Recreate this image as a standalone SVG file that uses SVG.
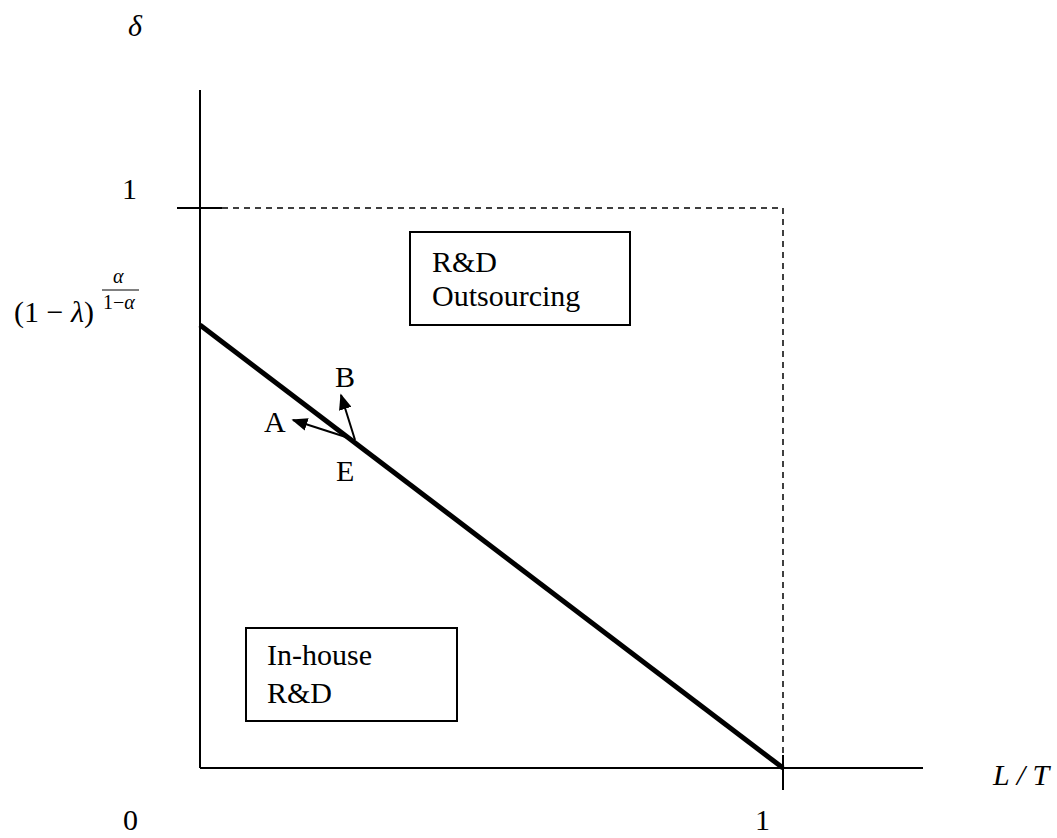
<svg xmlns="http://www.w3.org/2000/svg" width="1057" height="838" viewBox="0 0 1057 838">
<style>
text{font-family:"Liberation Serif","Times New Roman",serif;fill:#000;font-size:30px}
.it{font-style:italic}
.ax{stroke:#000;stroke-width:2;fill:none}
.dash{stroke:#000;stroke-width:1.5;stroke-dasharray:6,5;fill:none}
.box{stroke:#000;stroke-width:2;fill:#fff}
.sm{font-size:20px}
</style>
<defs>
<marker id="ah" viewBox="0 0 10 10" refX="9" refY="5" markerWidth="16" markerHeight="13" orient="auto" markerUnits="userSpaceOnUse" preserveAspectRatio="none">
<path d="M0,0 L10,5 L0,10 z" fill="#000"/>
</marker>
</defs>
<rect width="1057" height="838" fill="#fff"/>
<g id="axes">
<line class="ax" x1="200" y1="90" x2="200" y2="768"/>
<line class="ax" x1="200" y1="768" x2="923" y2="768"/>
<line class="ax" x1="177" y1="208" x2="222" y2="208"/>
<line class="ax" x1="783" y1="755" x2="783" y2="790"/>
<line class="dash" x1="222" y1="208" x2="783" y2="208"/>
<line class="dash" x1="783" y1="208" x2="783" y2="768"/>
</g>
<g id="connectors">
<line x1="200" y1="325" x2="783" y2="768" stroke="#000" stroke-width="5"/>
<line x1="355" y1="440" x2="341" y2="395" stroke="#000" stroke-width="2" marker-end="url(#ah)"/>
<line x1="352" y1="439" x2="293" y2="420" stroke="#000" stroke-width="2" marker-end="url(#ah)"/>
</g>
<g id="labels">
<text class="it" x="128" y="36">δ</text>
<text x="122" y="199">1</text>
<text x="14" y="322">(1 − <tspan class="it">λ</tspan>)</text>
<text class="it sm" x="113" y="283">α</text>
<line x1="102" y1="290" x2="139" y2="290" stroke="#000" stroke-width="1"/>
<text class="sm" x="103" y="309">1−<tspan class="it">α</tspan></text>
<text x="264" y="432">A</text>
<text x="335" y="387">B</text>
<text x="336" y="481">E</text>
<text x="123" y="830">0</text>
<text x="755" y="830">1</text>
<text class="it" x="993" y="785">L / T</text>
</g>
<g id="node-outsourcing">
<rect class="box" x="410" y="232" width="220" height="93"/>
<text x="432" y="272">R&amp;D</text>
<text x="432" y="306">Outsourcing</text>
</g>
<g id="node-inhouse">
<rect class="box" x="246" y="628" width="211" height="93"/>
<text x="267" y="665">In-house</text>
<text x="267" y="703">R&amp;D</text>
</g>
</svg>
